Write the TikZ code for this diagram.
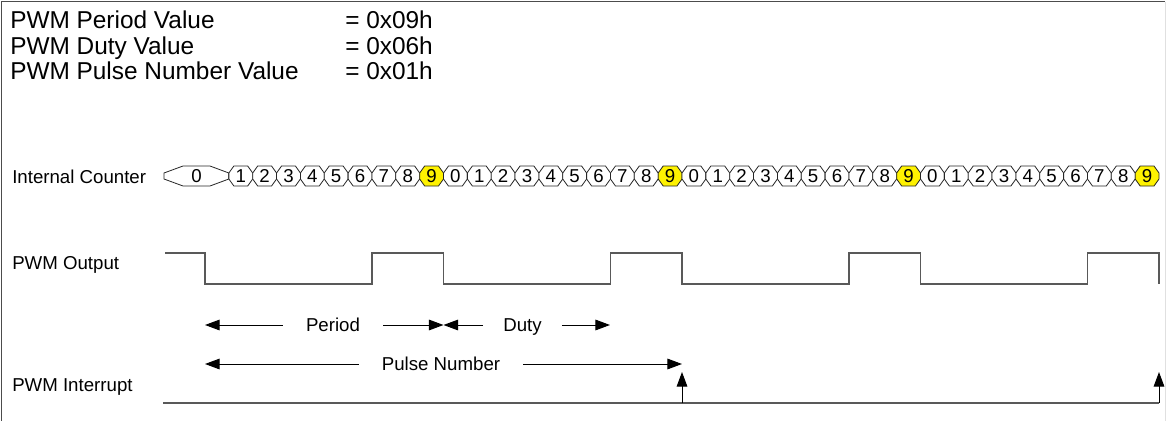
\documentclass[tikz,border=0pt]{standalone}
\usepackage{fontspec}
\setmainfont{Liberation Sans}
\usetikzlibrary{arrows.meta}

\tikzset{
  lbl/.style={font=\fontsize{14}{16}\selectfont, inner sep=0pt},
  hdr/.style={font=\fontsize{18.3}{20}\selectfont, anchor=base west, inner sep=0pt},
  dimtxt/.style={lbl, text height=10pt, text depth=0pt, inner ysep=0pt},
  wave/.style={draw=black!65, line width=1.1pt},
  dim/.style={-{Triangle[length=11pt,width=8pt]}, line width=0.75pt},
  cell/.style={draw=black!85, line width=0.6pt},
}

\begin{document}
\begin{tikzpicture}[x=0.75pt,y=-0.75pt]
	\useasboundingbox (0,0) rectangle (1167,421);
	% frame
	\draw[black!70, line width=0.9pt] (1.5,421) -- (1.5,1.5) -- (1165,1.5);
	\draw[black!12, line width=0.9pt] (1165.5,1.5) -- (1165.5,421);
	
	% register values
	\node[hdr] (perlbl) at (10,28) {PWM Period Value};
	\node[hdr] (perval) at (345,28) {= 0x09h};
	\node[hdr] (dutlbl) at (10,54) {PWM Duty Value};
	\node[hdr] (dutval) at (345,54) {= 0x06h};
	\node[hdr] (pnlbl) at (10,79) {PWM Pulse Number Value};
	\node[hdr] (pnval) at (345,79) {= 0x01h};
	
	% signal names
	\node[lbl, anchor=base west] (cntlbl) at (12,183) {Internal Counter};
	\node[lbl, anchor=base west] (outlbl) at (12,269) {PWM Output};
	\node[lbl, anchor=base west] (intlbl) at (12,391) {PWM Interrupt};
	
	% internal counter
	\def\cw{23.85}
	\draw[cell, fill=white] (164,173) -- (183,166) -- (210,166) -- (228.85,173) -- (228.85,179) -- (210,186) -- (183,186) -- (164,179) -- cycle;
	\node[lbl] (c0) at (196.5,176) {0};
	\foreach \k in {1,...,39}{
		\pgfmathtruncatemacro{\v}{mod(\k,10)}
		\pgfmathsetmacro{\xa}{205+\k*\cw}
		\pgfmathsetmacro{\xb}{\xa+\cw}
		\ifnum\v=9 \def\fc{yellow}\else\def\fc{white}\fi
		\draw[cell, fill=\fc] (\xa,173) -- (\xa+5,166) -- (\xb-5,166) -- (\xb,173) -- (\xb,179) -- (\xb-5,186) -- (\xa+5,186) -- (\xa,179) -- cycle;
		\node[lbl] (c\k) at ({(\xa+\xb)/2},176) {\v};
	}
	
	% pwm output
	\draw[wave] (165,253) -- (205,253)
		\foreach \p in {0,...,3}{
			-- ({205+\p*238.5},284) -- ({371.95+\p*238.5},284)
			-- ({371.95+\p*238.5},253) -- ({443.5+\p*238.5},253)
		} -- (1159,284);
	
	% period and duty
	\coordinate (pa) at (205,325);
	\coordinate (pb) at (443.5,325);
	\coordinate (db) at (610,325);
	\node[dimtxt, inner xsep=17.3pt] (period) at (333,325) {Period};
	\node[dimtxt, inner xsep=15pt] (duty) at (522.5,325) {Duty};
	\draw[dim] (period) -- (pa);
	\draw[dim] (period) -- (pb);
	\draw[dim] (duty) -- (pb);
	\draw[dim] (duty) -- (db);
	
	% pulse number
	\coordinate (na) at (205,364);
	\coordinate (nb) at (682,364);
	\node[dimtxt, inner xsep=17pt] (pulse) at (441,364) {Pulse Number};
	\draw[dim] (pulse) -- (na);
	\draw[dim] (pulse) -- (nb);
	
	% pwm interrupt
	\coordinate (i0) at (163,403);
	\coordinate (i1) at (682,403);
	\coordinate (i2) at (1159,403);
	\coordinate (t1) at (682,372);
	\coordinate (t2) at (1159,372);
	\draw[wave] (i0) -- (i2);
	\draw[dim] (i1) -- (t1);
	\draw[dim] (i2) -- (t2);
\end{tikzpicture}
\end{document}
